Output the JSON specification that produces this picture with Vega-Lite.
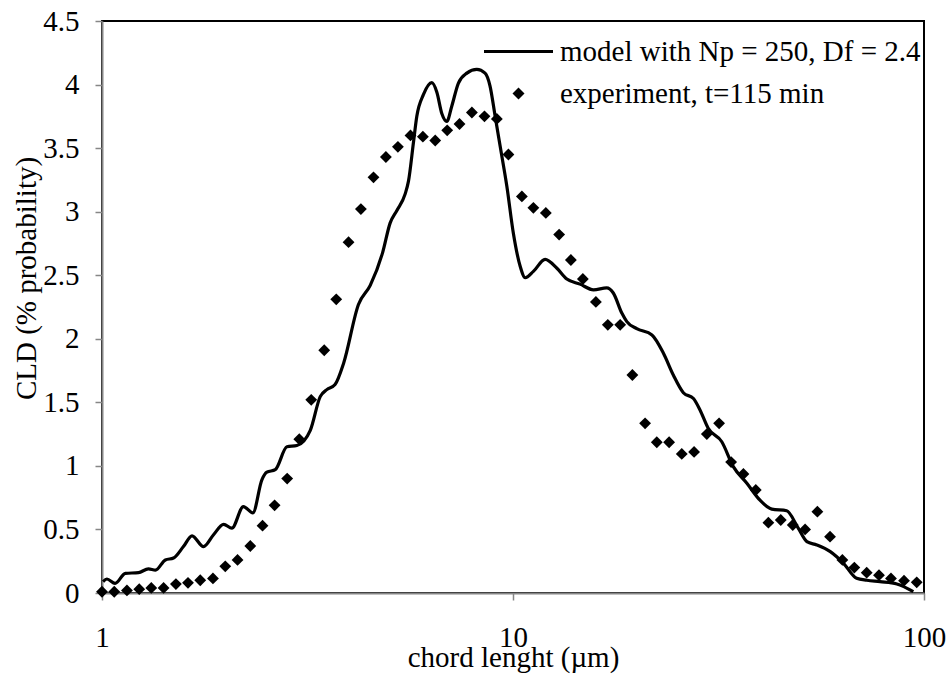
{
  "$schema": "https://vega.github.io/schema/vega-lite/v6.json",
  "autosize": "none",
  "width": 822,
  "height": 572,
  "padding": {"left": 102, "top": 21, "right": 28, "bottom": 82},
  "background": "white",
  "config": {
    "view": {"stroke": "black", "strokeWidth": 2},
    "font": "Liberation Serif",
    "axis": {
      "grid": false,
      "domainColor": "#868686",
      "domainWidth": 2,
      "tickColor": "#868686",
      "tickWidth": 1.5,
      "tickSize": 7,
      "labelFont": "Liberation Serif",
      "labelFontSize": 29,
      "labelColor": "black",
      "titleFont": "Liberation Serif",
      "titleFontSize": 29,
      "titleFontWeight": "normal",
      "titleColor": "black"
    }
  },
  "datasets": {
    "model": [
      {"x": 1.006, "y": 0.09}, {"x": 1.028, "y": 0.11}, {"x": 1.076, "y": 0.076},
      {"x": 1.140, "y": 0.155}, {"x": 1.227, "y": 0.16}, {"x": 1.297, "y": 0.19},
      {"x": 1.349, "y": 0.18}, {"x": 1.426, "y": 0.26}, {"x": 1.493, "y": 0.275},
      {"x": 1.578, "y": 0.365}, {"x": 1.656, "y": 0.45}, {"x": 1.766, "y": 0.365},
      {"x": 1.866, "y": 0.456}, {"x": 1.977, "y": 0.54}, {"x": 2.070, "y": 0.51},
      {"x": 2.208, "y": 0.68}, {"x": 2.328, "y": 0.63}, {"x": 2.449, "y": 0.89},
      {"x": 2.518, "y": 0.95}, {"x": 2.640, "y": 0.97}, {"x": 2.818, "y": 1.15},
      {"x": 2.979, "y": 1.16}, {"x": 3.212, "y": 1.28}, {"x": 3.396, "y": 1.545},
      {"x": 3.524, "y": 1.60}, {"x": 3.690, "y": 1.64}, {"x": 3.873, "y": 1.81},
      {"x": 4.207, "y": 2.27}, {"x": 4.494, "y": 2.42}, {"x": 4.819, "y": 2.68},
      {"x": 5.023, "y": 2.91}, {"x": 5.218, "y": 3.01}, {"x": 5.466, "y": 3.14},
      {"x": 5.568, "y": 3.24}, {"x": 5.728, "y": 3.55}, {"x": 5.834, "y": 3.75},
      {"x": 6.053, "y": 3.92}, {"x": 6.346, "y": 4.015}, {"x": 6.527, "y": 3.94},
      {"x": 6.714, "y": 3.77}, {"x": 6.902, "y": 3.71}, {"x": 7.096, "y": 3.83},
      {"x": 7.362, "y": 4.01}, {"x": 7.722, "y": 4.09}, {"x": 8.166, "y": 4.12},
      {"x": 8.551, "y": 4.09}, {"x": 8.790, "y": 3.99}, {"x": 9.049, "y": 3.75},
      {"x": 9.311, "y": 3.51}, {"x": 9.661, "y": 3.20}, {"x": 10.02, "y": 2.83},
      {"x": 10.41, "y": 2.57}, {"x": 10.71, "y": 2.48}, {"x": 11.21, "y": 2.53},
      {"x": 11.97, "y": 2.625}, {"x": 12.79, "y": 2.555}, {"x": 13.52, "y": 2.47},
      {"x": 14.55, "y": 2.43}, {"x": 15.70, "y": 2.385}, {"x": 16.90, "y": 2.40},
      {"x": 17.54, "y": 2.36}, {"x": 18.41, "y": 2.20}, {"x": 18.92, "y": 2.135},
      {"x": 20.00, "y": 2.08}, {"x": 21.78, "y": 2.03}, {"x": 23.23, "y": 1.886},
      {"x": 24.55, "y": 1.715}, {"x": 25.97, "y": 1.576}, {"x": 27.48, "y": 1.53},
      {"x": 28.51, "y": 1.44}, {"x": 29.85, "y": 1.296}, {"x": 32.21, "y": 1.19},
      {"x": 34.36, "y": 0.994}, {"x": 37.07, "y": 0.863}, {"x": 39.90, "y": 0.73},
      {"x": 42.62, "y": 0.66}, {"x": 46.34, "y": 0.647}, {"x": 49.43, "y": 0.51},
      {"x": 51.88, "y": 0.404}, {"x": 54.83, "y": 0.378}, {"x": 59.16, "y": 0.325},
      {"x": 63.68, "y": 0.234}, {"x": 68.55, "y": 0.116}, {"x": 72.61, "y": 0.10},
      {"x": 78.16, "y": 0.089}, {"x": 85.90, "y": 0.071}, {"x": 94.19, "y": 0.01}
    ],
    "experiment": [
      {"x": 1.000, "y": 0.01, "series": "experiment, t=115 min"},
      {"x": 1.071, "y": 0.01, "series": "experiment, t=115 min"},
      {"x": 1.150, "y": 0.02, "series": "experiment, t=115 min"},
      {"x": 1.232, "y": 0.03, "series": "experiment, t=115 min"},
      {"x": 1.318, "y": 0.04, "series": "experiment, t=115 min"},
      {"x": 1.412, "y": 0.04, "series": "experiment, t=115 min"},
      {"x": 1.513, "y": 0.07, "series": "experiment, t=115 min"},
      {"x": 1.619, "y": 0.08, "series": "experiment, t=115 min"},
      {"x": 1.734, "y": 0.10, "series": "experiment, t=115 min"},
      {"x": 1.862, "y": 0.115, "series": "experiment, t=115 min"},
      {"x": 1.995, "y": 0.21, "series": "experiment, t=115 min"},
      {"x": 2.137, "y": 0.26, "series": "experiment, t=115 min"},
      {"x": 2.295, "y": 0.37, "series": "experiment, t=115 min"},
      {"x": 2.458, "y": 0.53, "series": "experiment, t=115 min"},
      {"x": 2.630, "y": 0.69, "series": "experiment, t=115 min"},
      {"x": 2.822, "y": 0.90, "series": "experiment, t=115 min"},
      {"x": 3.020, "y": 1.21, "series": "experiment, t=115 min"},
      {"x": 3.229, "y": 1.52, "series": "experiment, t=115 min"},
      {"x": 3.473, "y": 1.91, "series": "experiment, t=115 min"},
      {"x": 3.715, "y": 2.31, "series": "experiment, t=115 min"},
      {"x": 3.980, "y": 2.76, "series": "experiment, t=115 min"},
      {"x": 4.265, "y": 3.02, "series": "experiment, t=115 min"},
      {"x": 4.577, "y": 3.27, "series": "experiment, t=115 min"},
      {"x": 4.906, "y": 3.43, "series": "experiment, t=115 min"},
      {"x": 5.248, "y": 3.51, "series": "experiment, t=115 min"},
      {"x": 5.631, "y": 3.60, "series": "experiment, t=115 min"},
      {"x": 6.036, "y": 3.59, "series": "experiment, t=115 min"},
      {"x": 6.468, "y": 3.56, "series": "experiment, t=115 min"},
      {"x": 6.917, "y": 3.64, "series": "experiment, t=115 min"},
      {"x": 7.411, "y": 3.69, "series": "experiment, t=115 min"},
      {"x": 7.943, "y": 3.78, "series": "experiment, t=115 min"},
      {"x": 8.523, "y": 3.75, "series": "experiment, t=115 min"},
      {"x": 9.135, "y": 3.73, "series": "experiment, t=115 min"},
      {"x": 9.747, "y": 3.45, "series": "experiment, t=115 min"},
      {"x": 10.51, "y": 3.12, "series": "experiment, t=115 min"},
      {"x": 11.21, "y": 3.03, "series": "experiment, t=115 min"},
      {"x": 12.02, "y": 2.99, "series": "experiment, t=115 min"},
      {"x": 12.95, "y": 2.82, "series": "experiment, t=115 min"},
      {"x": 13.83, "y": 2.62, "series": "experiment, t=115 min"},
      {"x": 14.79, "y": 2.47, "series": "experiment, t=115 min"},
      {"x": 15.91, "y": 2.29, "series": "experiment, t=115 min"},
      {"x": 17.01, "y": 2.11, "series": "experiment, t=115 min"},
      {"x": 18.23, "y": 2.11, "series": "experiment, t=115 min"},
      {"x": 19.52, "y": 1.715, "series": "experiment, t=115 min"},
      {"x": 20.96, "y": 1.335, "series": "experiment, t=115 min"},
      {"x": 22.38, "y": 1.186, "series": "experiment, t=115 min"},
      {"x": 23.98, "y": 1.186, "series": "experiment, t=115 min"},
      {"x": 25.74, "y": 1.094, "series": "experiment, t=115 min"},
      {"x": 27.58, "y": 1.11, "series": "experiment, t=115 min"},
      {"x": 29.62, "y": 1.25, "series": "experiment, t=115 min"},
      {"x": 31.73, "y": 1.335, "series": "experiment, t=115 min"},
      {"x": 33.94, "y": 1.03, "series": "experiment, t=115 min"},
      {"x": 36.36, "y": 0.936, "series": "experiment, t=115 min"},
      {"x": 38.97, "y": 0.81, "series": "experiment, t=115 min"},
      {"x": 41.82, "y": 0.553, "series": "experiment, t=115 min"},
      {"x": 44.82, "y": 0.574, "series": "experiment, t=115 min"},
      {"x": 47.94, "y": 0.535, "series": "experiment, t=115 min"},
      {"x": 51.37, "y": 0.50, "series": "experiment, t=115 min"},
      {"x": 55.03, "y": 0.64, "series": "experiment, t=115 min"},
      {"x": 59.07, "y": 0.443, "series": "experiment, t=115 min"},
      {"x": 63.30, "y": 0.26, "series": "experiment, t=115 min"},
      {"x": 67.69, "y": 0.20, "series": "experiment, t=115 min"},
      {"x": 72.54, "y": 0.16, "series": "experiment, t=115 min"},
      {"x": 77.71, "y": 0.14, "series": "experiment, t=115 min"},
      {"x": 83.11, "y": 0.115, "series": "experiment, t=115 min"},
      {"x": 89.41, "y": 0.097, "series": "experiment, t=115 min"},
      {"x": 96.0, "y": 0.084, "series": "experiment, t=115 min"}
    ]
  },
  "encoding": {
    "x": {
      "field": "x",
      "type": "quantitative",
      "scale": {"type": "log", "domain": [1, 100]},
      "axis": {
        "values": [1, 10, 100],
        "labelExpr": "datum.value",
        "labelFlush": false,
        "labelOverlap": false,
        "labelBaseline": "alphabetic",
        "labelPadding": 46,
        "title": "chord lenght (µm)",
        "titleBaseline": "alphabetic",
        "titleY": 73
      }
    },
    "y": {
      "field": "y",
      "type": "quantitative",
      "scale": {"domain": [0, 4.5], "nice": false},
      "axis": {
        "values": [0, 0.5, 1, 1.5, 2, 2.5, 3, 3.5, 4, 4.5],
        "labelExpr": "datum.value",
        "labelPadding": 16,
        "title": "CLD (% probability)",
        "titleAngle": -90,
        "titleAlign": "center",
        "titleBaseline": "middle",
        "titleX": -76,
        "titleY": 257
      }
    }
  },
  "layer": [
    {
      "data": {"name": "model"},
      "mark": {"type": "line", "color": "black", "strokeWidth": 3.2, "interpolate": "monotone"}
    },
    {
      "data": {"name": "experiment"},
      "mark": {"type": "point", "filled": true, "color": "black", "opacity": 1, "size": 140},
      "encoding": {
        "shape": {
          "field": "series",
          "type": "nominal",
          "scale": {
            "domain": ["model with Np = 250, Df = 2.4", "experiment, t=115 min"],
            "range": ["M-5.75,-0.27H5.75V0.27H-5.75Z", "diamond"]
          },
          "legend": {
            "title": null,
            "orient": "none",
            "legendX": 402,
            "legendY": 16,
            "padding": 0,
            "labelFont": "Liberation Serif",
            "labelFontSize": 29,
            "labelColor": "black",
            "labelLimit": 0,
            "labelOffset": 27,
            "rowPadding": 12,
            "symbolSize": 144,
            "symbolFillColor": "black",
            "symbolStrokeColor": "black",
            "symbolStrokeWidth": 0,
            "symbolOpacity": 1
          }
        }
      }
    }
  ]
}
